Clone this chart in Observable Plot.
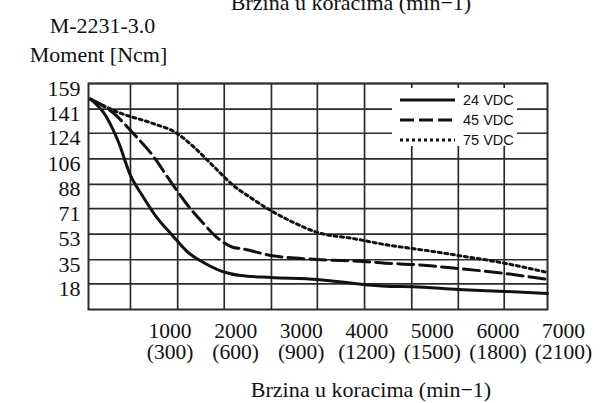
<!DOCTYPE html>
<html>
<head>
<meta charset="utf-8">
<script src="https://cdn.jsdelivr.net/npm/d3@7"></script>
<script src="https://cdn.jsdelivr.net/npm/@observablehq/plot@0.6"></script>
<style>
  html, body { margin: 0; padding: 0; background: #fff; }
  #chart { width: 603px; height: 403px; overflow: hidden; }
</style>
</head>
<body>
<div id="chart"></div>
<script>
// ---- data ----
const modelName = "M-2231-3.0";
const yTitle = "Moment [Ncm]";
const xTitle = "Brzina u koracima (min\u22121)";

const yTicks = [18, 35, 53, 71, 88, 106, 124, 141, 159];
const xTicks = [1000, 2000, 3000, 4000, 5000, 6000, 7000];
const xTicksSub = [300, 600, 900, 1200, 1500, 1800, 2100];
const gridX = [640, 1360, 2070, 2790, 3490, 4210, 4930, 5640, 6340];

const seriesNames = ["24 VDC", "45 VDC", "75 VDC"];

const speed24 = [30, 260, 460, 640, 820, 1020, 1280, 1520, 1780, 2090, 2320, 2780, 3490, 4190, 4610, 4940, 5640, 6360, 7000];
const torque24 = [148, 136.5, 117.5, 94.3, 80.2, 66.1, 52.1, 40.1, 32.4, 26.0, 23.9, 22.5, 21.1, 17.6, 16.2, 16.0, 14.1, 12.7, 11.3];

const speed45 = [30, 370, 670, 980, 1220, 1480, 1740, 1980, 2210, 2320, 2780, 3490, 4190, 4610, 4940, 5640, 6360, 7000];
const torque45 = [148, 138.6, 124.5, 108.3, 92.2, 75.3, 61.2, 49.9, 43.6, 42.9, 38.0, 35.2, 33.8, 32.4, 31.7, 28.8, 25.3, 21.1];

const speed75 = [30, 460, 980, 1330, 1630, 1940, 2210, 2470, 2780, 3130, 3490, 4040, 4610, 4940, 5640, 6360, 7000];
const torque75 = [148, 138.6, 130.9, 124.5, 113.3, 99.2, 87.2, 78.8, 69.6, 61.2, 54.2, 49.9, 45.0, 42.9, 38.0, 32.4, 26.0];

// ---- build table ----
const rows = [];
[[speed24, torque24], [speed45, torque45], [speed75, torque75]].forEach(([xs, ys], k) => {
  xs.forEach((x, i) => rows.push({series: seriesNames[k], speed: x, torque: ys[i]}));
});

const serif = "'Liberation Serif', 'Times New Roman', serif";
const ink = "#111";
const gridColor = "#2b2b2b";
const dashes = {"24 VDC": null, "45 VDC": "16,6", "75 VDC": "3,3.6"};

const chart = Plot.plot({
  width: 603,
  height: 403,
  marginTop: 83,
  marginRight: 56,
  marginBottom: 94,
  marginLeft: 88,
  style: {background: "#fff", fontFamily: serif, overflow: "visible"},
  x: {domain: [0, 7000], axis: null},
  y: {domain: [0, 159], axis: null},
  marks: [
    Plot.gridX(gridX, {stroke: gridColor, strokeOpacity: 1, strokeWidth: 1.7}),
    Plot.gridY(yTicks, {stroke: gridColor, strokeOpacity: 1, strokeWidth: 1.7}),
    Plot.frame({stroke: gridColor, strokeWidth: 2}),
    ...seriesNames.map(s => Plot.line(rows.filter(d => d.series === s), {
      x: "speed", y: "torque", curve: "monotone-x",
      stroke: ink, strokeWidth: 3, strokeDasharray: dashes[s]
    })),
    // y tick labels
    Plot.text(yTicks, {y: d => d, frameAnchor: "left", text: d => String(d),
      textAnchor: "end", dx: -8, dy: 5, fontSize: 22, fill: ink}),
    // x tick labels (two lines)
    Plot.text(xTicks, {x: d => d, frameAnchor: "bottom",
      text: (d, i) => `${d}\n(${xTicksSub[i]})`,
      lineAnchor: "top", lineHeight: 1, dx: 16, dy: 13, fontSize: 21.5, fill: ink}),
    // titles
    Plot.text([modelName], {frameAnchor: "top-left", text: d => d, dx: 14, dy: -51,
      textAnchor: "middle", lineAnchor: "bottom", fontSize: 22, fill: ink}),
    Plot.text([yTitle], {frameAnchor: "top-left", text: d => d, dx: 10, dy: -22,
      textAnchor: "middle", lineAnchor: "bottom", fontSize: 22, fill: ink}),
    Plot.text([xTitle], {frameAnchor: "top", text: d => d, dx: 33, dy: -74,
      textAnchor: "middle", lineAnchor: "bottom", fontSize: 22, fill: ink}),
    Plot.text([xTitle], {frameAnchor: "bottom", text: d => d, dx: 53, dy: 87,
      textAnchor: "middle", lineAnchor: "bottom", fontSize: 22, fill: ink})
  ]
});

// ---- legend (inside plot, top-right) ----
const svg = d3.select(chart);
const frameRight = 603 - 56, frameTop = 83;
const lg = svg.append("g").attr("text-anchor", "start");
lg.append("rect").attr("x", frameRight - 155).attr("y", frameTop + 5).attr("width", 125).attr("height", 58)
  .attr("fill", "#fff");
seriesNames.forEach((s, i) => {
  const ly = frameTop + 17 + i * 20;
  lg.append("line").attr("x1", frameRight - 147).attr("x2", frameRight - 92).attr("y1", ly).attr("y2", ly)
    .attr("stroke", ink).attr("stroke-width", 3)
    .attr("stroke-dasharray", s === "45 VDC" ? "14,5" : s === "75 VDC" ? "3,3" : null);
  lg.append("text").attr("x", frameRight - 84).attr("y", ly).attr("dy", "0.35em")
    .attr("text-anchor", "start")
    .attr("font-family", "'Liberation Sans', Arial, sans-serif").attr("font-size", 14.5)
    .attr("fill", ink).text(s);
});

document.getElementById("chart").appendChild(chart);
</script>
</body>
</html>
